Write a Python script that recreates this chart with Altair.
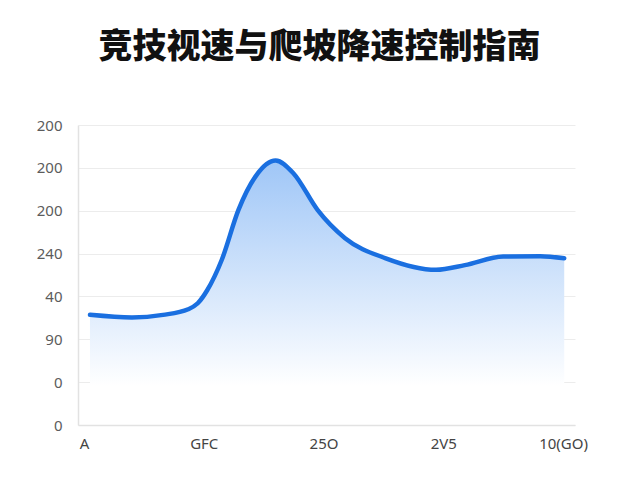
import altair as alt
import pandas as pd

# Data (x positions in axis-tick units, y in gridline units)
x_pos = [0.05, 0.40, 0.66, 0.87, 0.95, 1.03, 1.15, 1.29, 1.43, 1.60, 1.75, 1.95, 2.18, 2.52, 2.94, 3.18, 3.50, 3.81, 4.01]
y_val = [2.57, 2.51, 2.57, 2.70, 2.84, 3.15, 3.85, 5.02, 5.79, 6.17, 5.87, 5.02, 4.36, 3.89, 3.62, 3.73, 3.93, 3.94, 3.89]

x_tick_labels = ["A", "GFC", "25O", "2V5", "10(GO)"]
y_tick_labels = ["0", "0", "90", "40", "240", "200", "200", "200"]  # bottom to top

title_text = "竞技视速与爬坡降速控制指南"

df = pd.DataFrame({"t": x_pos, "v": y_val})

x_expr = "[" + ",".join(f"'{s}'" for s in x_tick_labels) + "][datum.value]"
y_expr = "[" + ",".join(f"'{s}'" for s in y_tick_labels) + "][datum.value]"

x_enc = alt.X(
    "t:Q",
    scale=alt.Scale(domain=[-0.05, 4.1], nice=False, zero=False),
    axis=alt.Axis(
        values=list(range(len(x_tick_labels))),
        labelExpr=x_expr,
        title=None,
        grid=False,
        ticks=False,
        domain=True,
        domainColor="#e2e2e2",
        domainWidth=1.5,
        labelFont="Noto Sans",
        labelFontSize=15,
        labelColor="#444444",
        labelPadding=11,
        labelFlush=False,
    ),
)

y_enc = alt.Y(
    "v:Q",
    scale=alt.Scale(domain=[0, len(y_tick_labels) - 1], nice=False, zero=True),
    axis=alt.Axis(
        values=list(range(len(y_tick_labels))),
        labelExpr=y_expr,
        title=None,
        grid=True,
        gridColor="#ececec",
        gridWidth=1,
        ticks=False,
        domain=True,
        domainColor="#e2e2e2",
        domainWidth=1.5,
        labelFont="Noto Sans",
        labelFontSize=15,
        labelColor="#5c5c5c",
        labelPadding=16,
    ),
)

area = alt.Chart(df).mark_area(
    interpolate="monotone",
    color=alt.Gradient(
        gradient="linear",
        stops=[
            alt.GradientStop(color="#9fc6f7", offset=0),
            alt.GradientStop(color="#ffffff", offset=1),
        ],
        x1=0, x2=0, y1=0, y2=1,
    ),
).encode(x=x_enc, y=y_enc, y2=alt.datum(0.9))

line = alt.Chart(df).mark_line(
    interpolate="monotone",
    color="#1a6fe0",
    strokeWidth=4.5,
    strokeCap="round",
).encode(x=x_enc, y=y_enc)

chart = (
    alt.layer(area, line)
    .properties(
        width=497,
        height=300,
        title=alt.TitleParams(
            text=title_text,
            font="Noto Sans CJK SC",
            fontWeight=900,
            fontSize=34,
            color="#111111",
            anchor="middle",
            offset=53,
            dx=-7,
        ),
        autosize=alt.AutoSizeParams(type="none"),
        padding={"left": 70, "top": 117, "right": 50, "bottom": 45},
        background="white",
    )
    .configure_view(stroke=None)
)

chart.save("out.html", embed_options={"renderer": "svg", "actions": False})
